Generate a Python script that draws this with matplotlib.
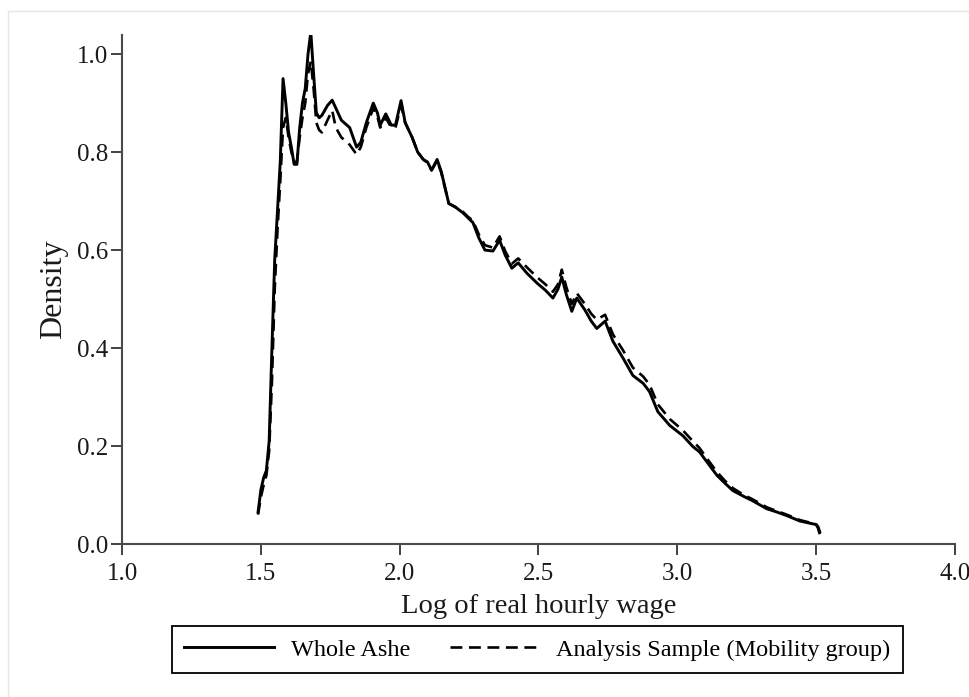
import matplotlib
matplotlib.use("Agg")
import matplotlib.pyplot as plt
from matplotlib.patches import Rectangle

# Log real hourly wage grid and kernel density estimates
log_wage = [
    1.490, 1.500, 1.510, 1.520, 1.530, 1.540, 1.550, 1.560, 1.570, 1.580,
    1.590, 1.600, 1.610, 1.620, 1.630, 1.640, 1.650, 1.660, 1.670, 1.680,
    1.690, 1.700, 1.710, 1.720, 1.740, 1.757, 1.770, 1.790, 1.820, 1.845,
    1.860, 1.880, 1.905, 1.920, 1.930, 1.950, 1.970, 1.985, 2.005, 2.020,
    2.045, 2.065, 2.085, 2.100, 2.115, 2.135, 2.150, 2.177, 2.200, 2.228,
    2.246, 2.264, 2.285, 2.307, 2.336, 2.360, 2.380, 2.404, 2.427, 2.458,
    2.494, 2.525, 2.552, 2.570, 2.584, 2.600, 2.620, 2.638, 2.667, 2.690,
    2.710, 2.740, 2.768, 2.805, 2.840, 2.877, 2.900, 2.930, 2.973, 3.020,
    3.056, 3.080, 3.110, 3.143, 3.170, 3.200, 3.240, 3.272, 3.322, 3.360,
    3.394, 3.441, 3.489, 3.500, 3.507, 3.513,
]

whole_ashe = [
    0.065, 0.110, 0.135, 0.150, 0.210, 0.400, 0.580, 0.680, 0.780, 0.950,
    0.900, 0.840, 0.810, 0.775, 0.775, 0.850, 0.900, 0.930, 1.000, 1.045,
    0.960, 0.880, 0.870, 0.875, 0.895, 0.906, 0.890, 0.865, 0.850, 0.810,
    0.820, 0.860, 0.900, 0.880, 0.855, 0.878, 0.855, 0.855, 0.905, 0.860,
    0.830, 0.800, 0.785, 0.780, 0.763, 0.785, 0.760, 0.695, 0.688, 0.676,
    0.666, 0.656, 0.625, 0.600, 0.598, 0.620, 0.590, 0.563, 0.574, 0.553,
    0.533, 0.518, 0.502, 0.520, 0.545, 0.510, 0.475, 0.502, 0.478, 0.455,
    0.440, 0.455, 0.414, 0.379, 0.344, 0.328, 0.311, 0.270, 0.242, 0.221,
    0.199, 0.188, 0.165, 0.140, 0.125, 0.109, 0.097, 0.088, 0.072, 0.065,
    0.058, 0.047, 0.041, 0.040, 0.035, 0.025,
]

analysis_sample = [
    0.060, 0.095, 0.120, 0.140, 0.190, 0.330, 0.520, 0.640, 0.740, 0.850,
    0.870, 0.830, 0.800, 0.780, 0.780, 0.830, 0.870, 0.900, 0.960, 0.985,
    0.930, 0.860, 0.845, 0.840, 0.865, 0.885, 0.850, 0.830, 0.815, 0.795,
    0.810, 0.850, 0.890, 0.872, 0.850, 0.870, 0.850, 0.850, 0.895, 0.860,
    0.830, 0.800, 0.785, 0.778, 0.763, 0.782, 0.758, 0.695, 0.688, 0.678,
    0.668, 0.660, 0.632, 0.610, 0.605, 0.628, 0.598, 0.572, 0.583, 0.565,
    0.545, 0.530, 0.515, 0.530, 0.560, 0.525, 0.490, 0.512, 0.490, 0.470,
    0.458, 0.468, 0.428, 0.395, 0.360, 0.342, 0.325, 0.285, 0.255, 0.232,
    0.210, 0.196, 0.172, 0.147, 0.130, 0.114, 0.100, 0.091, 0.075, 0.067,
    0.060, 0.049, 0.042, 0.040, 0.032, 0.020,
]

x_ticks = [1.0, 1.5, 2.0, 2.5, 3.0, 3.5, 4.0]
y_ticks = [0.0, 0.2, 0.4, 0.6, 0.8, 1.0]

plt.rcParams["font.family"] = ["Liberation Serif", "DejaVu Serif"]

fig = plt.figure(figsize=(9.69, 6.97), dpi=100)
fig.patch.set_facecolor("white")

# faint outer graph-region border
fig.add_artist(Rectangle((7.5 / 969, -0.01), 1.05, 1 - 10.5 / 697 + 0.01,
                         transform=fig.transFigure, fill=False,
                         edgecolor="#e6e6e6", linewidth=1.0))

ax = fig.add_axes([0.1259, 0.2195, 0.8596, 0.731])

line_whole, = ax.plot(log_wage, whole_ashe, color="black", lw=2.1,
                      label="Whole Ashe")
line_sample, = ax.plot(log_wage, analysis_sample, color="black", lw=1.9,
                       dashes=(4.5, 2.5),
                       label="Analysis Sample (Mobility group)")

ax.set_xlim(1.0, 4.0)
ax.set_ylim(0.0, 1.04)
ax.set_xticks(x_ticks)
ax.set_xticklabels([f"{t:.1f}" for t in x_ticks])
ax.set_yticks(y_ticks)
ax.set_yticklabels([f"{t:.1f}" for t in y_ticks])

for side in ("top", "right"):
    ax.spines[side].set_visible(False)
for side in ("left", "bottom"):
    ax.spines[side].set_color("#4a4a4a")
    ax.spines[side].set_linewidth(1.5)

ax.tick_params(axis="both", direction="out", length=8, width=1.3,
               color="#333333", labelsize=18, labelcolor="#1a1a1a")
ax.tick_params(axis="x", pad=5.5)
ax.tick_params(axis="y", pad=2)

ax.set_xlabel("Log of real hourly wage", fontsize=20.5, labelpad=7,
              color="#1a1a1a")
ax.set_ylabel("Density", fontsize=23, labelpad=6, color="#1a1a1a")

leg = fig.legend(handles=[line_whole, line_sample],
                 loc="center", bbox_to_anchor=(537.5 / 969, 1 - 649.5 / 697),
                 ncol=2, fontsize=17.5, frameon=True, fancybox=False,
                 edgecolor="black", framealpha=1.0, handlelength=3.7,
                 columnspacing=1.6, handletextpad=0.7, borderpad=0.52)
leg.get_frame().set_linewidth(1.3)

fig.savefig("out.png", dpi=100, facecolor="white")
